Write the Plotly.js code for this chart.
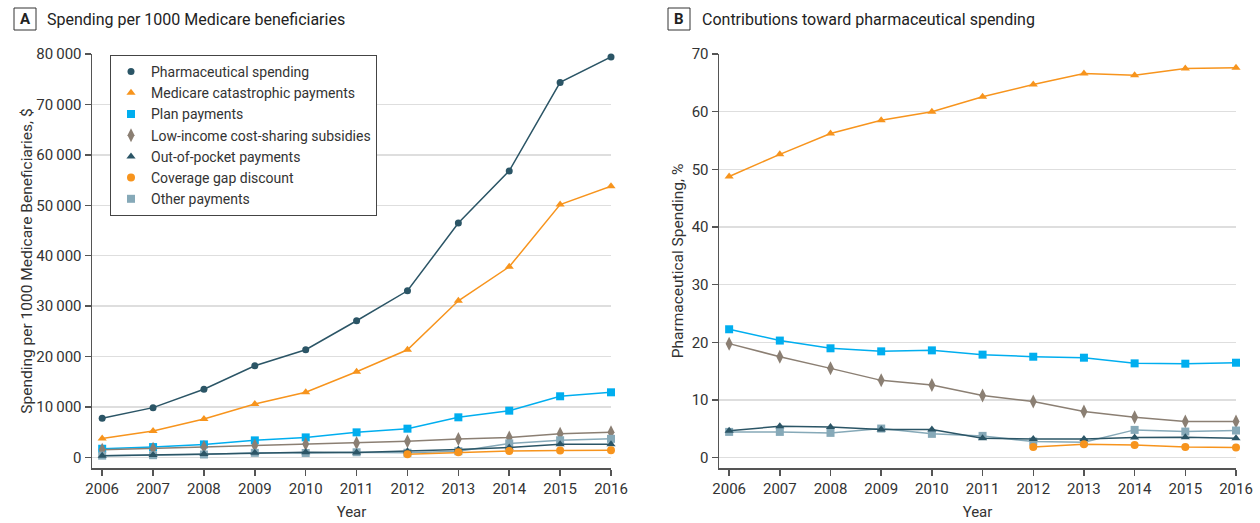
<!DOCTYPE html>
<html>
<head>
<meta charset="utf-8">
<script src="https://cdn.plot.ly/plotly-3.0.1.min.js"></script>
<style>
html,body{margin:0;padding:0;background:#fff;}
#chart{width:1260px;height:523px;}
</style>
</head>
<body>
<div id="chart"></div>
<script>
// ---- Data ----
const years = [2006, 2007, 2008, 2009, 2010, 2011, 2012, 2013, 2014, 2015, 2016];
const seriesNames = ["Pharmaceutical spending", "Medicare catastrophic payments", "Plan payments",
  "Low-income cost-sharing subsidies", "Out-of-pocket payments", "Coverage gap discount", "Other payments"];

// Panel A: spending per 1000 Medicare beneficiaries, $
const pharmaA  = [7750, 9870, 13510, 18180, 21350, 27100, 33040, 46490, 56820, 74370, 79400];
const catastA  = [3770, 5230, 7620, 10600, 12910, 17000, 21350, 31060, 37800, 50130, 53770];
const planA    = [1720, 2050, 2580, 3380, 3970, 4970, 5700, 7950, 9270, 12120, 12910];
const lowincA  = [1520, 1720, 2050, 2380, 2650, 2850, 3180, 3640, 3970, 4700, 4970];
const oopA     = [320, 470, 660, 900, 1010, 950, 1200, 1580, 1990, 2600, 2620];
const gapA     = [null, null, null, null, null, null, 640, 1000, 1250, 1390, 1420];
const otherA   = [350, 440, 580, 910, 880, 1020, 920, 1240, 2780, 3400, 3680];

// Panel B: contributions toward pharmaceutical spending, %
const catastB  = [48.75, 52.6, 56.2, 58.5, 60.0, 62.6, 64.7, 66.6, 66.3, 67.5, 67.6];
const planB    = [22.26, 20.3, 18.96, 18.43, 18.6, 17.86, 17.5, 17.33, 16.35, 16.29, 16.46];
const lowincB  = [19.77, 17.5, 15.48, 13.4, 12.58, 10.78, 9.74, 8.0, 7.01, 6.26, 6.26];
const oopB     = [4.64, 5.45, 5.33, 4.87, 4.87, 3.36, 3.25, 3.25, 3.48, 3.54, 3.36];
const gapB     = [null, null, null, null, null, null, 1.86, 2.32, 2.2, 1.86, 1.74];
const otherB   = [4.46, 4.46, 4.29, 5.04, 4.12, 3.77, 2.78, 2.67, 4.81, 4.52, 4.70];

const yTicksA = [0, 10000, 20000, 30000, 40000, 50000, 60000, 70000, 80000];
const yTicksB = [0, 10, 20, 30, 40, 50, 60, 70];

// ---- Styles ----
const FONT = "'Roboto', 'Liberation Sans', sans-serif";
const styles = [
  {color: '#2b5566', symbol: 'circle', size: 7},
  {color: '#f7941d', symbol: 'triangle-up', size: 8},
  {color: '#00aeef', symbol: 'square', size: 8},
  {color: '#8b7f73', symbol: 'diamond-tall', size: 10},
  {color: '#2b5566', symbol: 'triangle-up', size: 8},
  {color: '#f7941d', symbol: 'circle', size: 8},
  {color: '#86a9b8', symbol: 'square', size: 8}
];

const dataA = [pharmaA, catastA, planA, lowincA, oopA, gapA, otherA];
const dataB = [null, catastB, planB, lowincB, oopB, gapB, otherB];
const drawOrder = [0, 1, 2, 3, 6, 4, 5];

const traces = [];
drawOrder.forEach(i => {
  traces.push({
    x: years, y: dataA[i], type: 'scatter', mode: 'lines+markers',
    line: {color: styles[i].color, width: 1.5},
    marker: {color: styles[i].color, symbol: styles[i].symbol, size: styles[i].size},
    xaxis: 'x', yaxis: 'y', showlegend: false, cliponaxis: false, hoverinfo: 'skip'
  });
});
drawOrder.forEach(i => {
  if (!dataB[i]) return;
  traces.push({
    x: years, y: dataB[i], type: 'scatter', mode: 'lines+markers',
    line: {color: styles[i].color, width: 1.5},
    marker: {color: styles[i].color, symbol: styles[i].symbol, size: styles[i].size},
    xaxis: 'x2', yaxis: 'y2', showlegend: false, cliponaxis: false, hoverinfo: 'skip'
  });
});
// legend entries (markers only)
seriesNames.forEach((name, i) => {
  traces.push({
    x: [null], y: [null], type: 'scatter', mode: 'markers', name: name,
    marker: {color: styles[i].color, symbol: styles[i].symbol, size: styles[i].size},
    xaxis: 'x', yaxis: 'y', showlegend: true
  });
});

const W = 1260, H = 523;
const px = v => v / W;
const py = v => 1 - v / H;

const axisCommon = {
  showline: true, linecolor: '#555', linewidth: 1.5,
  ticks: 'outside', tickcolor: '#555', ticklen: 6, tickwidth: 1.5,
  tickfont: {family: FONT, size: 15, color: '#333'},
  zeroline: false
};

const layout = {
  width: W, height: H,
  margin: {l: 0, r: 0, t: 0, b: 0},
  paper_bgcolor: '#fff', plot_bgcolor: '#fff',
  separators: '.\u2009',
  font: {family: FONT, color: '#333'},
  showlegend: true,
  legend: {
    x: px(110), y: py(55), xanchor: 'left', yanchor: 'top',
    bgcolor: '#fff', bordercolor: '#444', borderwidth: 1,
    font: {family: FONT, size: 14, color: '#333'},
    itemwidth: 30, tracegroupgap: 0
  },
  xaxis: Object.assign({}, axisCommon, {
    domain: [px(92), px(611)], range: [2005.8, 2016],
    tickvals: years, ticktext: years.map(String), showgrid: false,
    anchor: 'y',
    title: {text: 'Year', font: {family: FONT, size: 15, color: '#333'}, standoff: 10}
  }),
  yaxis: Object.assign({}, axisCommon, {
    domain: [py(468), py(54)], range: [-2100, 80000],
    tickvals: yTicksA, tickformat: ',d',
    showgrid: true, gridcolor: '#dedede', gridwidth: 1.5,
    anchor: 'x',
    title: {text: 'Spending per 1000 Medicare Beneficiaries, $', font: {family: FONT, size: 15.5, color: '#333'}, standoff: 0}
  }),
  xaxis2: Object.assign({}, axisCommon, {
    domain: [px(719), px(1236)], range: [2005.8, 2016],
    tickvals: years, ticktext: years.map(String), showgrid: false,
    anchor: 'y2',
    title: {text: 'Year', font: {family: FONT, size: 15, color: '#333'}, standoff: 10}
  }),
  yaxis2: Object.assign({}, axisCommon, {
    domain: [py(468), py(54)], range: [-1.8, 70],
    tickvals: yTicksB,
    showgrid: true, gridcolor: '#dedede', gridwidth: 1.5,
    anchor: 'x2',
    title: {text: 'Pharmaceutical Spending, %', font: {family: FONT, size: 15.5, color: '#333'}, standoff: 4}
  }),
  shapes: [
    {type: 'rect', xref: 'paper', yref: 'paper', x0: px(14), x1: px(36), y0: py(30), y1: py(8),
     line: {color: '#333', width: 1}, fillcolor: 'rgba(0,0,0,0)'},
    {type: 'rect', xref: 'paper', yref: 'paper', x0: px(668), x1: px(690), y0: py(30), y1: py(8),
     line: {color: '#333', width: 1}, fillcolor: 'rgba(0,0,0,0)'}
  ],
  annotations: [
    {xref: 'paper', yref: 'paper', x: px(25), y: py(19), text: '<b>A</b>', showarrow: false,
     xanchor: 'center', yanchor: 'middle', font: {family: FONT, size: 15, color: '#222'}},
    {xref: 'paper', yref: 'paper', x: px(45), y: py(19), text: 'Spending per 1000 Medicare beneficiaries', showarrow: false,
     xanchor: 'left', yanchor: 'middle', font: {family: FONT, size: 16, color: '#222'}},
    {xref: 'paper', yref: 'paper', x: px(679), y: py(19), text: '<b>B</b>', showarrow: false,
     xanchor: 'center', yanchor: 'middle', font: {family: FONT, size: 15, color: '#222'}},
    {xref: 'paper', yref: 'paper', x: px(700), y: py(19), text: 'Contributions toward pharmaceutical spending', showarrow: false,
     xanchor: 'left', yanchor: 'middle', font: {family: FONT, size: 16, color: '#222'}}
  ]
};

Plotly.newPlot('chart', traces, layout, {staticPlot: true, displayModeBar: false});
</script>
</body>
</html>
